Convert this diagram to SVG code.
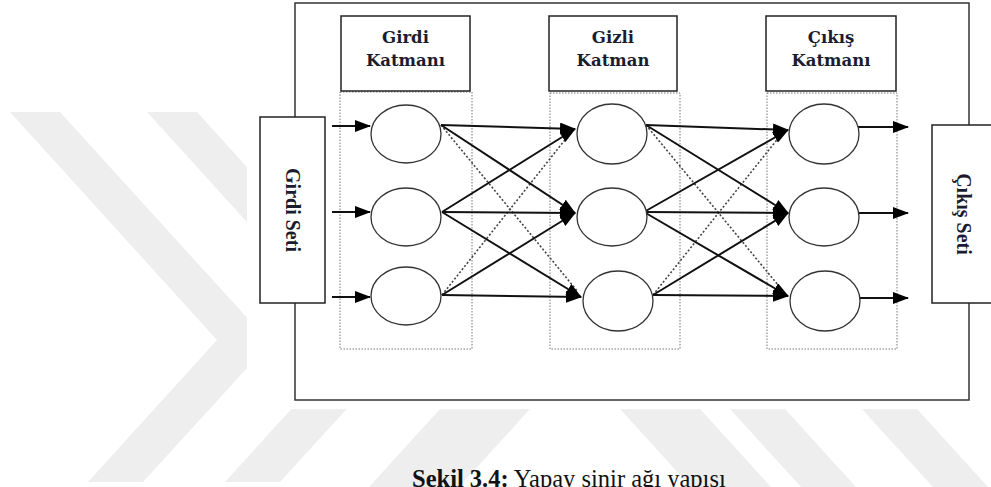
<svg xmlns="http://www.w3.org/2000/svg" width="991" height="487" viewBox="0 0 991 487">
  <defs>
    <style>
      .wm { fill: #eeeeee; }
      .frame { fill: #ffffff; stroke: #333333; stroke-width: 1.5; }
      .box { fill: #ffffff; stroke: #222222; stroke-width: 1.5; }
      .zone { fill: none; stroke: #777777; stroke-width: 1; stroke-dasharray: 1.5 1.5; }
      .neuron { fill: #ffffff; stroke: #333333; stroke-width: 1.3; }
      .link { stroke: #111111; stroke-width: 2; fill: none; }
      .dot { stroke: #444444; stroke-width: 1.6; stroke-dasharray: 2 2; fill: none; }
      .layer { font-family: "DejaVu Serif", "Liberation Serif", serif; font-weight: bold; font-size: 16.5px; fill: #1c1c30; text-anchor: middle; }
      .side { font-family: "Liberation Serif", serif; font-weight: bold; font-size: 20px; fill: #1c1c30; text-anchor: middle; }
      .caption { font-family: "Liberation Serif", serif; font-size: 24.5px; fill: #111111; }
    </style>
    <marker id="arrow" markerUnits="userSpaceOnUse" markerWidth="16" markerHeight="12" viewBox="0 0 16 12" refX="15" refY="6" orient="auto">
      <path d="M0,0 L16,6 L0,12 Z" fill="#000000"/>
    </marker>
  </defs>

  <!-- background watermark bands -->
  <g id="watermark">
    <polygon class="wm" points="10,112 60,112 270,343 143,482 88,482 217,340"/>
    <polygon class="wm" points="147,112 197,112 407,343 280,482 225,482 354,340"/>
    <polygon class="wm" points="440,409 530,409 459,487 369,487"/>
    <polygon class="wm" points="620,409 700,409 771,487 691,487"/>
    <polygon class="wm" points="730,409 785,409 856,487 801,487"/>
    <polygon class="wm" points="862,409 917,409 988,487 933,487"/>
  </g>
  <rect x="247" y="0" width="744" height="409" fill="#ffffff"/>

  <!-- outer frame -->
  <rect id="frame" class="frame" x="295" y="3" width="674" height="397"/>

  <!-- layer zones -->
  <g id="zones">
    <rect class="zone" x="340" y="92" width="132" height="257"/>
    <rect class="zone" x="550" y="93" width="130" height="256"/>
    <rect class="zone" x="767" y="93" width="130" height="256"/>
  </g>

  <!-- layer titles -->
  <g id="title-input">
    <rect class="box" x="341" y="16" width="129" height="75"/>
    <text class="layer" x="405.5" y="43">Girdi</text>
    <text class="layer" x="405.5" y="66">Katmanı</text>
  </g>
  <g id="title-hidden">
    <rect class="box" x="549" y="16" width="128" height="75"/>
    <text class="layer" x="613" y="43">Gizli</text>
    <text class="layer" x="613" y="66">Katman</text>
  </g>
  <g id="title-output">
    <rect class="box" x="766" y="16" width="130" height="75"/>
    <text class="layer" x="831" y="43">Çıkış</text>
    <text class="layer" x="831" y="66">Katmanı</text>
  </g>

  <!-- data boxes -->
  <g id="input-set">
    <rect class="box" x="260" y="117" width="65" height="186"/>
    <text class="side" transform="translate(286,210) rotate(90)">Girdi Seti</text>
  </g>
  <g id="output-set">
    <rect class="box" x="932" y="125" width="70" height="178"/>
    <text class="side" transform="translate(957,214) rotate(90)">Çıkış Seti</text>
  </g>

  <!-- connectors -->
  <g id="connectors">
    <!-- inputs -->
    <line class="link" x1="332" y1="126" x2="370" y2="126" marker-end="url(#arrow)"/>
    <line class="link" x1="332" y1="212" x2="370" y2="212" marker-end="url(#arrow)"/>
    <line class="link" x1="332" y1="297" x2="370" y2="297" marker-end="url(#arrow)"/>
    <!-- input layer to hidden layer -->
    <line class="dot" x1="441" y1="125" x2="578" y2="292"/>
    <line class="dot" x1="442" y1="295" x2="568" y2="136"/>
    <line class="link" x1="441" y1="125" x2="575" y2="129" marker-end="url(#arrow)"/>
    <line class="link" x1="441" y1="125" x2="575" y2="213" marker-end="url(#arrow)"/>
    <line class="link" x1="442" y1="212" x2="575" y2="129" marker-end="url(#arrow)"/>
    <line class="link" x1="442" y1="212" x2="575" y2="213" marker-end="url(#arrow)"/>
    <line class="link" x1="442" y1="212" x2="581" y2="297" marker-end="url(#arrow)"/>
    <line class="link" x1="442" y1="295" x2="575" y2="213" marker-end="url(#arrow)"/>
    <line class="link" x1="442" y1="295" x2="581" y2="297" marker-end="url(#arrow)"/>
    <!-- hidden layer to output layer -->
    <line class="dot" x1="646" y1="125" x2="783" y2="291"/>
    <line class="dot" x1="653" y1="295" x2="780" y2="136"/>
    <line class="link" x1="646" y1="125" x2="788" y2="130" marker-end="url(#arrow)"/>
    <line class="link" x1="646" y1="125" x2="788" y2="213" marker-end="url(#arrow)"/>
    <line class="link" x1="644" y1="212" x2="788" y2="130" marker-end="url(#arrow)"/>
    <line class="link" x1="644" y1="212" x2="788" y2="213" marker-end="url(#arrow)"/>
    <line class="link" x1="644" y1="212" x2="788" y2="296" marker-end="url(#arrow)"/>
    <line class="link" x1="653" y1="295" x2="788" y2="213" marker-end="url(#arrow)"/>
    <line class="link" x1="653" y1="295" x2="788" y2="296" marker-end="url(#arrow)"/>
    <!-- outputs -->
    <line class="link" x1="857" y1="127" x2="908" y2="127" marker-end="url(#arrow)"/>
    <line class="link" x1="854" y1="213" x2="908" y2="213" marker-end="url(#arrow)"/>
    <line class="link" x1="857" y1="298" x2="908" y2="298" marker-end="url(#arrow)"/>
  </g>

  <!-- neurons -->
  <g id="in-1"><ellipse class="neuron" cx="406" cy="134" rx="35" ry="29"/></g>
  <g id="in-2"><ellipse class="neuron" cx="406" cy="217" rx="35" ry="29"/></g>
  <g id="in-3"><ellipse class="neuron" cx="406" cy="296" rx="35" ry="29"/></g>
  <g id="hid-1"><ellipse class="neuron" cx="612" cy="134" rx="35" ry="30"/></g>
  <g id="hid-2"><ellipse class="neuron" cx="612" cy="217" rx="35" ry="29"/></g>
  <g id="hid-3"><ellipse class="neuron" cx="618" cy="301" rx="35" ry="30"/></g>
  <g id="out-1"><ellipse class="neuron" cx="824" cy="134" rx="35" ry="30"/></g>
  <g id="out-2"><ellipse class="neuron" cx="824" cy="217" rx="35" ry="29"/></g>
  <g id="out-3"><ellipse class="neuron" cx="825" cy="301" rx="35" ry="30"/></g>

  <!-- caption -->
  <text class="caption" x="412" y="487"><tspan font-weight="bold">Şekil 3.4:</tspan> Yapay sinir ağı yapısı</text>
</svg>
